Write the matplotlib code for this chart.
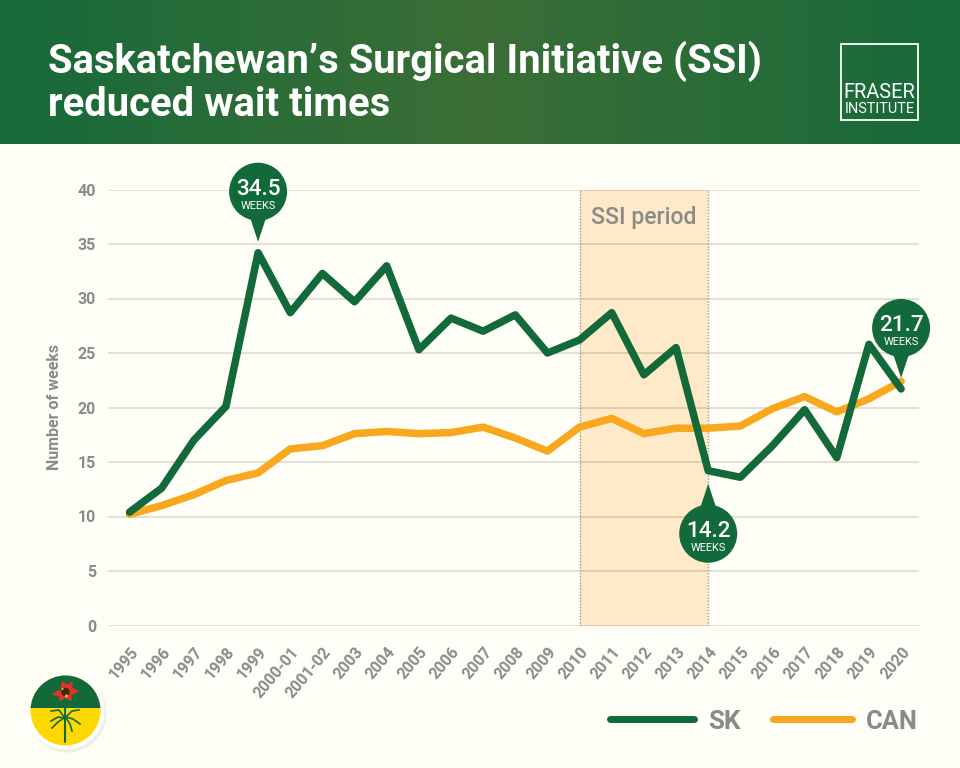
import numpy as np
import matplotlib
matplotlib.use('Agg')
import matplotlib.pyplot as plt
from matplotlib.patches import Circle, Polygon, Rectangle
from matplotlib.transforms import ScaledTranslation

years = ['1995', '1996', '1997', '1998', '1999', '2000-01', '2001-02', '2003', '2004', '2005',
         '2006', '2007', '2008', '2009', '2010', '2011', '2012', '2013', '2014', '2015',
         '2016', '2017', '2018', '2019', '2020']
sk = [10.4, 12.6, 17.0, 20.1, 34.2, 28.7, 32.3, 29.7, 33.0, 25.3, 28.2, 27.0, 28.5,
      25.0, 26.2, 28.7, 23.0, 25.5, 14.2, 13.6, 16.5, 19.8, 15.4, 25.8, 21.7]
can = [10.2, 11.0, 12.0, 13.3, 14.0, 16.2, 16.5, 17.6, 17.8, 17.6, 17.7, 18.2, 17.2,
       16.0, 18.2, 19.0, 17.6, 18.1, 18.1, 18.3, 19.9, 21.0, 19.6, 20.8, 22.4]
y_ticks = [0, 5, 10, 15, 20, 25, 30, 35, 40]
ssi_start = '2010'
ssi_end = '2014'
title_lines = ['Saskatchewan’s Surgical Initiative (SSI)', 'reduced wait times']

BG = '#FFFEF6'
GREEN = '#12693A'
ORANGE = '#F7A81E'
GREY = '#8A8A8A'
W, H = 960, 768


def px(v):
    return v * 0.72


plt.rcParams['font.family'] = ['Roboto', 'DejaVu Sans']
fig = plt.figure(figsize=(W / 100, H / 100), dpi=100, facecolor=BG)

# pixel overlay for header, logo, flag, legend
deco = fig.add_axes([0, 0, 1, 1], zorder=5)
deco.axis('off')
deco.patch.set_alpha(0)

# header gradient, dark at both ends
t = np.linspace(0, 1, 480)
left = np.array([0x17, 0x6A, 0x3A]) / 255
mid = np.array([0x3C, 0x6E, 0x36]) / 255
fade = 1 - np.abs(2 * t - 1)
grad = (left[None, :] + (mid - left)[None, :] * fade[:, None])[None, :, :]
deco.imshow(grad, extent=[0, W, 144, 0], aspect='auto', zorder=0)
deco.set_xlim(0, W)
deco.set_ylim(H, 0)

deco.text(48, 61, title_lines[0], color='white', fontsize=px(40), fontweight='bold', va='center')
deco.text(48, 105, title_lines[1], color='white', fontsize=px(40), fontweight='bold', va='center')

# logo
deco.add_patch(Rectangle((841, 43.5), 77, 76.5, fc='none', ec='white', lw=1.3))
deco.text(879.5, 92, 'FRASER', color='white', fontsize=px(20), ha='center', va='center')
deco.text(879.5, 109, 'INSTITUTE', color='white', fontsize=px(14.5), ha='center', va='center')

# chart
STEP = 32.15
X_START = 129.5
ax = fig.add_axes([108 / W, 1 - 625.5 / H, 811 / W, 436 / H], zorder=2)
ax.set_facecolor('none')
x = np.arange(len(years))
ax.set_xlim((108 - X_START) / STEP, (919 - X_START) / STEP)
ax.set_ylim(0, 40)
for side in ['top', 'right', 'left', 'bottom']:
    ax.spines[side].set_visible(False)
ax.set_yticks(y_ticks)
ax.grid(axis='y', color='black', alpha=0.13, lw=1.3)
ax.set_axisbelow(True)
ax.tick_params(axis='both', length=0)
ax.tick_params(axis='y', pad=8.5)
ax.tick_params(axis='x', pad=17)
ax.set_yticklabels([str(v) for v in y_ticks], fontsize=px(16), fontweight='bold', color=GREY)
ax.set_xticks(x)
ax.set_xticklabels(years, rotation=50, ha='right', va='center', rotation_mode='anchor',
                   fontsize=px(16), fontweight='bold', color=GREY)
shift = ScaledTranslation(6 / 100, 0, fig.dpi_scale_trans)
for lab in ax.get_xticklabels():
    lab.set_transform(lab.get_transform() + shift)

x0, x1 = years.index(ssi_start), years.index(ssi_end)
ax.axvspan(x0, x1, color='#FEE9C8', lw=0, zorder=0.4)
for b in (x0, x1):
    ax.axvline(b, color='#9A9A90', lw=1, ls=(0, (1, 1.2)), zorder=1.6)
ax.text((x0 + x1) / 2, 37.45, 'SSI period', color=GREY, fontsize=px(23), ha='center', va='center', fontweight='medium')

ax.plot(x, can, color=ORANGE, lw=px(7.5), solid_joinstyle='round', solid_capstyle='round', zorder=3)
ax.plot(x, sk, color=GREEN, lw=px(7.5), solid_joinstyle='round', solid_capstyle='round', zorder=4)
ax.set_ylabel('Number of weeks', fontsize=px(16), fontweight='bold', color=GREY)
ax.yaxis.set_label_coords((62 - 108) / 811, 0.5)


def to_px(xv, yv):
    a, b = ax.transData.transform((xv, yv))
    return a, H - b


def callout(year, value, label, above):
    # pin with a round head, tip points at the line
    i = years.index(year)
    cx, cy = to_px(i, value)
    s = -1 if above else 1
    tip = cy + s * (11 if above else 13)
    head = tip + s * 50
    deco.add_patch(Polygon([(cx, tip), (cx - 10, head + s * -20), (cx + 10, head + s * -20)],
                           fc=GREEN, ec='none', zorder=6))
    deco.add_patch(Circle((cx, head), 29, fc=GREEN, ec='none', zorder=6))
    deco.text(cx, head - 2, label, color='white', fontsize=px(22.5), ha='center', va='center',
              fontweight='medium', zorder=7)
    deco.text(cx, head + 14, 'WEEKS', color='white', fontsize=px(11), ha='center', va='center', zorder=7)


callout('1999', 34.2, '34.5', True)
callout('2014', 14.2, '14.2', False)
callout('2020', 21.7, '21.7', True)

# legend
deco.plot([610, 694], [719, 719], color=GREEN, lw=px(7), solid_capstyle='round')
deco.text(708, 722, 'SK', color=GREY, fontsize=px(26), fontweight='bold', va='center')
deco.plot([773, 852], [719, 719], color=ORANGE, lw=px(7), solid_capstyle='round')
deco.text(866, 722, 'CAN', color=GREY, fontsize=px(25.5), fontweight='bold', va='center')

# flag badge
fx, fy = 65.5, 710.5
deco.add_patch(Circle((fx + 2, fy + 3), 39, fc='#EFEEE6', ec='none', zorder=2))
deco.add_patch(Circle((fx, fy), 39, fc='white', ec='none', zorder=2.1))
disc = Circle((fx, fy), 35, fc='#FFD800', ec='none', zorder=2.2)
deco.add_patch(disc)
top = Rectangle((fx - 36, 674), 72, 34, fc=GREEN, ec='none', zorder=2.25)
deco.add_patch(top)
top.set_clip_path(disc)

# lily stem and leaves
deco.plot([65, 65], [704, 742], color=GREEN, lw=1.5, zorder=3, solid_capstyle='round')
for pts in ([(51, 711), (59, 710), (64, 717)], [(79, 710), (72, 711), (66, 717)],
            [(51, 721), (58, 717), (64, 718)], [(80, 724), (73, 719), (66, 717)],
            [(52, 728), (58, 722), (64, 718)], [(72, 731), (70, 724), (66, 718)]):
    a = np.array(pts)
    deco.plot(a[:, 0], a[:, 1], color=GREEN, lw=1.2, zorder=3)

# lily petals, pointed
fc = (65.5, 692)
for ang, length in ((-105, 12), (-55, 13), (-5, 14), (55, 11), (125, 11), (170, 14)):
    r = np.radians(ang)
    d = np.array([np.cos(r), np.sin(r)])
    n = np.array([-d[1], d[0]])
    c = np.array(fc)
    deco.add_patch(Polygon([c, c + d * length * 0.5 + n * 3.4, c + d * length, c + d * length * 0.5 - n * 3.4],
                           fc='#E2332A', ec='none', zorder=3.1))
deco.add_patch(Circle(fc, 4.2, fc='#3A2A14', ec='none', zorder=3.2))
deco.add_patch(Circle((fc[0] + 1, fc[1] + 4), 1.5, fc='#F5C518', ec='none', zorder=3.3))
deco.add_patch(Circle((fc[0] - 3, fc[1] - 3), 1, fc='#F5C518', ec='none', zorder=3.3))

fig.savefig('out.png', dpi=100, facecolor=BG)
